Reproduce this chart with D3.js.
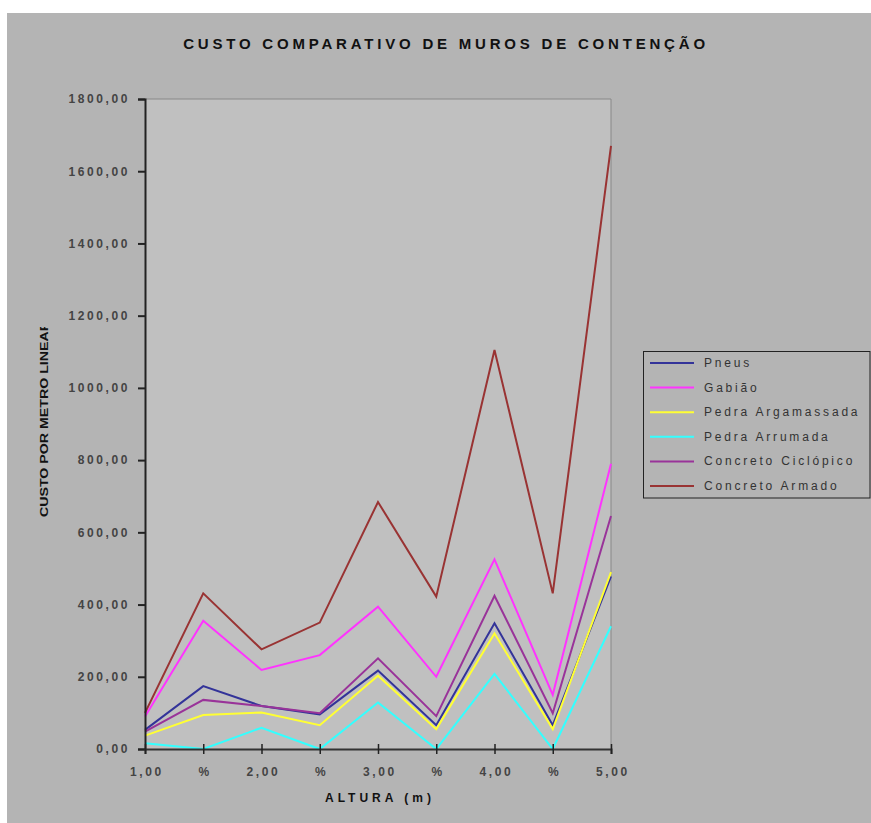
<!DOCTYPE html>
<html><head><meta charset="utf-8">
<script src="https://cdn.jsdelivr.net/npm/d3@7"></script>
<style>body{margin:0;background:#fff}svg{display:block}</style>
</head><body>
<script>
const categories = ["1,00","%","2,00","%","3,00","%","4,00","%","5,00"];
const seriesNames = ["Pneus","Gabião","Pedra Argamassada","Pedra Arrumada","Concreto Ciclópico","Concreto Armado"];
const seriesColors = ["#333399","#ff33ff","#ffff33","#33ffff","#993399","#993333"];
const pneus       = [53, 174, 119, 96, 217, 66, 348, 66, 478];
const gabiao      = [90, 355, 219, 260, 394, 200, 525, 150, 790];
const argamassada = [37, 94, 101, 66, 203, 55, 320, 55, 490];
const arrumada    = [16, 0, 59, 0, 129, 0, 208, 0, 340];
const ciclopico   = [48, 136, 119, 99, 251, 91, 424, 99, 645];
const armado      = [100, 431, 276, 350, 684, 422, 1105, 431, 1670];
const yTicks = [0,200,400,600,800,1000,1200,1400,1600,1800];
const seriesValues = [pneus, gabiao, argamassada, arrumada, ciclopico, armado];

const W = 871, H = 823;
const svg = d3.select("body").append("svg").attr("width", W).attr("height", H);
svg.append("rect").attr("x",7).attr("y",13).attr("width",W-7).attr("height",H-13).attr("fill","#b4b4b4");

const L = 145, R = 611, T = 99, B = 749;
const x = d3.scalePoint().domain(d3.range(categories.length)).range([L, R]).padding(0);
const y = d3.scaleLinear().domain([0,1800]).range([B, T]);

svg.append("rect").attr("x",L).attr("y",T).attr("width",R-L).attr("height",B-T)
  .attr("fill","#c0c0c0");
svg.append("path").attr("d",`M${L},${T}H${R}V${B}`).attr("fill","none").attr("stroke","#888").attr("stroke-width",1);

const font = "'Liberation Sans', Arial, sans-serif";

// title
svg.append("text").attr("x",446).attr("y",49).attr("text-anchor","middle")
  .attr("font-family",font).attr("font-weight","bold").attr("font-size",15)
  .attr("letter-spacing","3.8px").attr("fill","#111").text("CUSTO COMPARATIVO DE MUROS DE CONTENÇÃO");

// lines
const line = d3.line().x((d,i)=>x(i)).y(d=>y(d));
seriesValues.forEach((vals,k)=>{
  svg.append("path").datum(vals).attr("d",line).attr("fill","none")
    .attr("stroke",seriesColors[k]).attr("stroke-width",2).attr("stroke-linejoin","miter");
});

// y axis
const yAxis = d3.axisLeft(y).tickValues(yTicks).tickSize(7).tickFormat(d=>d3.format(".2f")(d).replace(".",","));
const gy = svg.append("g").attr("transform",`translate(${L},0)`).call(yAxis);
gy.select(".domain").attr("stroke","#222").attr("stroke-width",2);
gy.selectAll(".tick line").attr("stroke","#222").attr("stroke-width",2);
gy.selectAll(".tick text").attr("font-family",font).attr("font-size",12).attr("font-weight","bold")
  .attr("letter-spacing","2.6px").attr("fill","#444").attr("x",-15);

// x axis
const xAxis = d3.axisBottom(x).tickSize(5).tickFormat(i=>categories[i]);
const gx = svg.append("g").attr("transform",`translate(0,${B})`).call(xAxis);
gx.select(".domain").attr("stroke","#333").attr("stroke-width",2);
gx.selectAll(".tick line").attr("stroke","#222").attr("stroke-width",1.5).attr("y1",-5).attr("y2",5);
gx.selectAll(".tick text").attr("font-family",font).attr("font-size",12).attr("font-weight","bold")
  .attr("letter-spacing","2.6px").attr("fill","#444").attr("dy","0").attr("y",27).attr("dx",1.3);

// x title
svg.append("text").attr("x",378).attr("y",802).attr("text-anchor","middle")
  .attr("font-family",font).attr("font-weight","bold").attr("font-size",12)
  .attr("letter-spacing","4px").attr("fill","#111").attr("dx",2).text("ALTURA (m)");

// y title (clipped)
svg.append("clipPath").attr("id","yclip").append("rect").attr("x",30).attr("y",327).attr("width",30).attr("height",200);
svg.append("g").attr("clip-path","url(#yclip)").append("text")
  .attr("transform","translate(48,517) rotate(-90)")
  .attr("font-family","'Liberation Sans Narrow', 'Liberation Sans', Arial, sans-serif").attr("font-weight","bold").attr("font-size",11.5)
  .attr("fill","#111").attr("textLength",196).attr("lengthAdjust","spacingAndGlyphs").text("CUSTO POR METRO LINEAR");

// legend
const lg = svg.append("g");
lg.append("rect").attr("x",643.5).attr("y",351.5).attr("width",226.5).attr("height",146.5)
  .attr("fill","none").attr("stroke","#222").attr("stroke-width",1);
seriesNames.forEach((n,k)=>{
  const yy = 363 + k*24.6;
  lg.append("line").attr("x1",650).attr("x2",694).attr("y1",yy).attr("y2",yy)
    .attr("stroke",seriesColors[k]).attr("stroke-width",2);
  lg.append("text").attr("x",704).attr("y",yy+4).attr("font-family",font).attr("font-size",12)
    .attr("letter-spacing","2.8px").attr("fill","#333").text(n);
});
</script>
</body></html>
